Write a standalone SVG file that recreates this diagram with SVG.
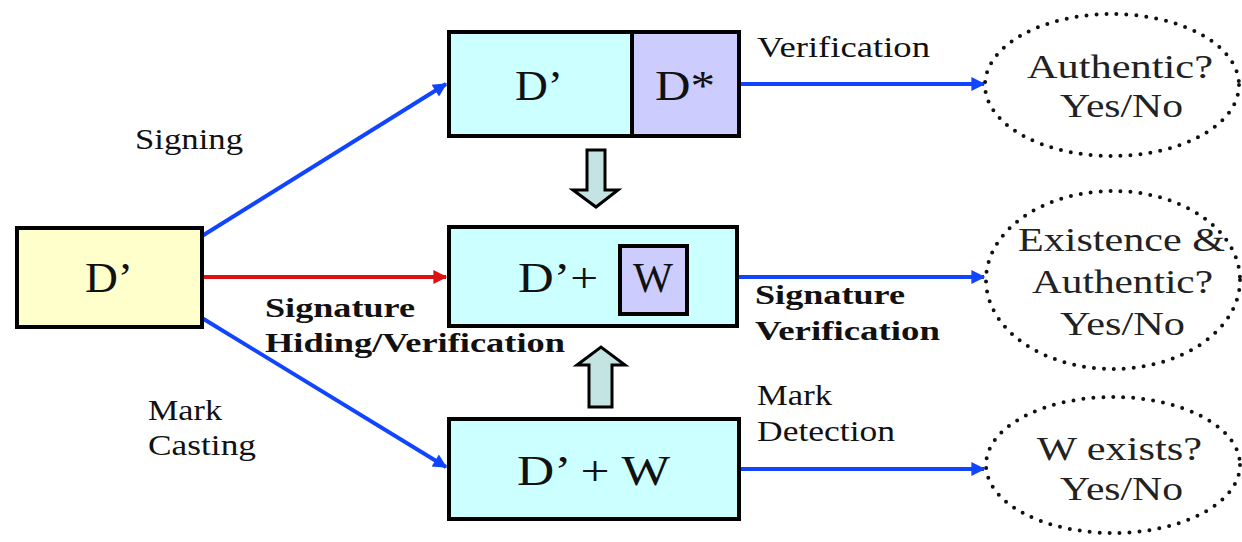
<svg xmlns="http://www.w3.org/2000/svg" width="1242" height="542" viewBox="0 0 1242 542">
  <style>
    .box { stroke: #000; stroke-width: 4; }
    .data { fill: #CCFFFF; }
    .sig { fill: #CCCCFF; }
    .src { fill: #FFFFCC; }
    text { font-family: "Liberation Serif", "Times New Roman", serif; }
    .big { font-size: 42px; fill: #111; }
    .lbl { font-size: 29px; fill: #111; }
    .lblb { font-size: 28px; font-weight: bold; fill: #111; }
    .res { font-size: 33px; fill: #222; }
    .dots { fill: none; stroke: #111; stroke-width: 4; stroke-linecap: round; stroke-dasharray: 0 10; }
    .blue { stroke: #1144FF; stroke-width: 4; fill: none; }
    .red { stroke: #DD1111; stroke-width: 4; fill: none; }
    .block { fill: #C4E4E4; stroke: #000; stroke-width: 3; stroke-linejoin: miter; }
  </style>
  <defs>
    <marker id="ab" viewBox="0 0 10 10" refX="9" refY="5" markerWidth="4" markerHeight="3.5" orient="auto" markerUnits="strokeWidth">
      <path d="M0,0 L10,5 L0,10 z" fill="#1144FF"/>
    </marker>
    <marker id="ar" viewBox="0 0 10 10" refX="9" refY="5" markerWidth="4" markerHeight="3.5" orient="auto" markerUnits="strokeWidth">
      <path d="M0,0 L10,5 L0,10 z" fill="#DD1111"/>
    </marker>
  </defs>

  <rect width="1242" height="542" fill="#fff"/>

  <!-- connectors -->
  <g id="connectors">
    <line class="blue" x1="202" y1="236" x2="446" y2="84" marker-end="url(#ab)"/>
    <line class="red" x1="202" y1="277" x2="446" y2="277" marker-end="url(#ar)"/>
    <line class="blue" x1="202" y1="318" x2="446" y2="467" marker-end="url(#ab)"/>
    <line class="blue" x1="740" y1="84" x2="984" y2="84" marker-end="url(#ab)"/>
    <line class="blue" x1="738" y1="277" x2="984" y2="277" marker-end="url(#ab)"/>
    <line class="blue" x1="740" y1="469" x2="984" y2="469" marker-end="url(#ab)"/>
    <!-- hollow block arrows between the stacked boxes -->
    <path class="block" d="M587,150 L605,150 L605,190 L618,190 L596,207 L573,190 L587,190 Z"/>
    <path class="block" d="M589,407 L612,407 L612,365 L625,365 L601,347 L577,365 L589,365 Z"/>
  </g>

  <!-- edge labels -->
  <g id="labels">
    <text class="lbl" x="135" y="149" textLength="108" lengthAdjust="spacingAndGlyphs">Signing</text>
    <text class="lbl" x="757" y="57" textLength="173" lengthAdjust="spacingAndGlyphs">Verification</text>
    <text class="lblb" x="265" y="317" textLength="150" lengthAdjust="spacingAndGlyphs">Signature</text>
    <text class="lblb" x="265" y="352" textLength="300" lengthAdjust="spacingAndGlyphs">Hiding/Verification</text>
    <text class="lblb" x="755" y="304" textLength="150" lengthAdjust="spacingAndGlyphs">Signature</text>
    <text class="lblb" x="755" y="340" textLength="185" lengthAdjust="spacingAndGlyphs">Verification</text>
    <text class="lbl" x="148" y="420" textLength="74" lengthAdjust="spacingAndGlyphs">Mark</text>
    <text class="lbl" x="148" y="455" textLength="108" lengthAdjust="spacingAndGlyphs">Casting</text>
    <text class="lbl" x="757" y="405" textLength="75" lengthAdjust="spacingAndGlyphs">Mark</text>
    <text class="lbl" x="757" y="441" textLength="138" lengthAdjust="spacingAndGlyphs">Detection</text>
  </g>

  <g id="source">
    <rect class="box src" x="17" y="228" width="185" height="99"/>
    <text class="big" x="85" y="292" textLength="48" lengthAdjust="spacingAndGlyphs">D’</text>
  </g>

  <g id="signed">
    <rect class="box data" x="449" y="32" width="183" height="104"/>
    <rect class="box sig" x="632" y="32" width="107" height="104"/>
    <text class="big" x="515" y="100" textLength="48" lengthAdjust="spacingAndGlyphs">D’</text>
    <text class="big" x="655" y="100" textLength="60" lengthAdjust="spacingAndGlyphs">D*</text>
  </g>

  <g id="hidden">
    <rect class="box data" x="449" y="227" width="288" height="99"/>
    <text class="big" x="518" y="292" textLength="80" lengthAdjust="spacingAndGlyphs">D’+</text>
    <rect class="box sig" x="620" y="246" width="67" height="68"/>
    <text class="big" x="633" y="292" textLength="40" lengthAdjust="spacingAndGlyphs">W</text>
  </g>

  <g id="marked">
    <rect class="box data" x="449" y="419" width="290" height="100"/>
    <text class="big" x="517" y="485" textLength="153" lengthAdjust="spacingAndGlyphs">D’ + W</text>
  </g>

  <g id="result-authentic">
    <ellipse class="dots" cx="1112" cy="85" rx="127" ry="71"/>
    <text class="res" x="1027" y="78" textLength="186" lengthAdjust="spacingAndGlyphs">Authentic?</text>
    <text class="res" x="1060" y="117" textLength="123" lengthAdjust="spacingAndGlyphs">Yes/No</text>
  </g>

  <g id="result-existence">
    <ellipse class="dots" cx="1113" cy="280" rx="127" ry="89"/>
    <text class="res" x="1018" y="251" textLength="207" lengthAdjust="spacingAndGlyphs">Existence &amp;</text>
    <text class="res" x="1032" y="293" textLength="181" lengthAdjust="spacingAndGlyphs">Authentic?</text>
    <text class="res" x="1060" y="335" textLength="125" lengthAdjust="spacingAndGlyphs">Yes/No</text>
  </g>

  <g id="result-mark">
    <ellipse class="dots" cx="1113" cy="465" rx="127" ry="68"/>
    <text class="res" x="1037" y="460" textLength="165" lengthAdjust="spacingAndGlyphs">W exists?</text>
    <text class="res" x="1060" y="500" textLength="123" lengthAdjust="spacingAndGlyphs">Yes/No</text>
  </g>
</svg>
